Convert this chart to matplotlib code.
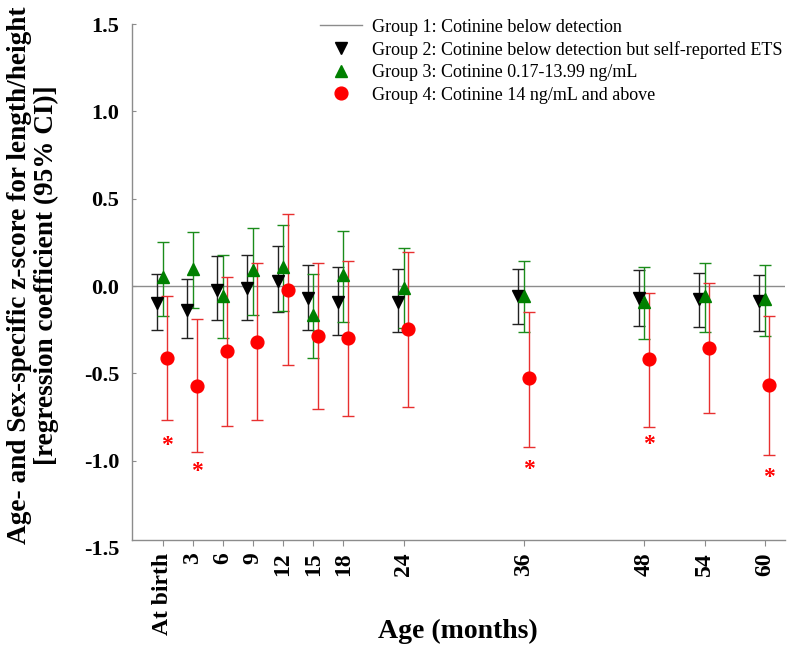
"""
cotinine_growth.py

Plots regression coefficients (95% CI) of the age- and sex-specific
length/height z-score by cotinine group, from birth to 60 months.
"""

import matplotlib
matplotlib.use("Agg")
import matplotlib.pyplot as plt
from matplotlib.lines import Line2D

plt.rcParams['font.family'] = ['Liberation Serif', 'DejaVu Serif']
plt.rcParams['axes.unicode_minus'] = False

# Age in months and the tick labels shown under the axis
months = [0, 3, 6, 9, 12, 15, 18, 24, 36, 48, 54, 60]
month_labels = ['At birth', '3', '6', '9', '12', '15', '18', '24', '36', '48', '54', '60']

# Group 2: cotinine below detection but self-reported ETS
g2_est = [-0.10, -0.14, -0.02, -0.01, 0.03, -0.07, -0.09, -0.09, -0.06, -0.07, -0.075, -0.085]
g2_lo = [-0.25, -0.30, -0.195, -0.195, -0.15, -0.25, -0.28, -0.265, -0.215, -0.23, -0.235, -0.255]
g2_hi = [0.07, 0.04, 0.17, 0.18, 0.23, 0.12, 0.11, 0.10, 0.095, 0.09, 0.075, 0.065]

# Group 3: cotinine 0.17-13.99 ng/mL
g3_est = [0.05, 0.10, -0.055, 0.09, 0.11, -0.165, 0.063, -0.013, -0.056, -0.09, -0.057, -0.077]
g3_lo = [-0.17, -0.125, -0.30, -0.167, -0.142, -0.415, -0.207, -0.24, -0.264, -0.303, -0.264, -0.285]
g3_hi = [0.25, 0.31, 0.176, 0.33, 0.35, 0.069, 0.316, 0.218, 0.146, 0.109, 0.132, 0.123]

# Group 4: cotinine 14 ng/mL and above
g4_est = [-0.41, -0.573, -0.374, -0.32, -0.023, -0.285, -0.299, -0.245, -0.529, -0.42, -0.354, -0.567]
g4_lo = [-0.77, -0.948, -0.803, -0.77, -0.452, -0.706, -0.745, -0.693, -0.92, -0.81, -0.728, -0.966]
g4_hi = [-0.056, -0.19, 0.054, 0.134, 0.414, 0.134, 0.144, 0.197, -0.146, -0.04, 0.019, -0.172]

# Significant group 4 estimates (asterisks)
sig_months = [0, 3, 36, 48, 60]
sig_y = [-0.89, -1.04, -1.03, -0.885, -1.076]

labels = [
    "Group 1: Cotinine below detection",
    "Group 2: Cotinine below detection but self-reported ETS",
    "Group 3: Cotinine 0.17-13.99 ng/mL",
    "Group 4: Cotinine 14 ng/mL and above",
]

GREEN = '#008000'
RED = '#ff0000'
AXIS_GREY = '#8c8c8c'


def draw_group(ax, offset, est, lo, hi, marker, color, ecolor):
    """Draws one group's estimates with asymmetric error bars."""
    x = [m + offset for m in months]
    yerr = [[e - l for e, l in zip(est, lo)], [h - e for e, h in zip(est, hi)]]
    ax.errorbar(x, est, yerr=yerr, fmt=marker, color=color, ecolor=ecolor,
                ms=9.2, elinewidth=1.0, capsize=4, capthick=1.0, zorder=3)


def make_chart(output_file):
    fig = plt.figure(figsize=(8, 6.53), dpi=100)
    ax = fig.add_axes([0.165, 0.1608, 0.81625, 0.8024])

    # spine position first: moving it resets the tick objects
    for side in ['top', 'right']:
        ax.spines[side].set_visible(False)
    ax.spines['bottom'].set_position(('data', -1.455))
    ax.spines['left'].set_bounds(-1.455, 1.5)
    for side in ['left', 'bottom']:
        ax.spines[side].set_color(AXIS_GREY)
        ax.spines[side].set_linewidth(1.0)

    ax.axhline(0, color=AXIS_GREY, lw=1.0, zorder=1)
    draw_group(ax, -0.55, g2_est, g2_lo, g2_hi, 'v', 'black', '#222222')
    draw_group(ax, 0.0, g3_est, g3_lo, g3_hi, '^', GREEN, '#1a8c1a')
    draw_group(ax, 0.45, g4_est, g4_lo, g4_hi, 'o', RED, '#e83030')

    for m, y in zip(sig_months, sig_y):
        ax.text(m + 0.45, y - 0.022, '*', color=RED, fontsize=17, fontweight='bold',
                ha='center', va='center')

    ax.set_xlim(-3.05, 62)
    ax.set_ylim(-1.5, 1.5)
    ax.set_yticks([-1.5, -1.0, -0.5, 0.0, 0.5, 1.0, 1.5])
    ax.set_yticklabels(['%.1f' % v for v in [-1.5, -1.0, -0.5, 0.0, 0.5, 1.0, 1.5]])
    ax.set_xticks(months)
    ax.set_xticklabels(month_labels)

    ax.tick_params(axis='y', direction='in', length=3, color=AXIS_GREY, pad=9,
                   labelsize=16)
    ax.tick_params(axis='x', direction='out', length=4, color=AXIS_GREY, pad=5,
                   labelsize=17, labelrotation=90)
    ax.yaxis.get_major_ticks()[0].tick1line.set_visible(False)
    for lbl in ax.get_xticklabels() + ax.get_yticklabels():
        lbl.set_fontweight('bold')

    fig.text(0.041, 1 - 275 / 653,
             "Age- and Sex-specific z-score for length/height\n"
             "[regression coefficient (95% CI)]",
             rotation=90, ha='center', va='center', fontsize=19.6,
             fontweight='bold', linespacing=1.1, multialignment='center')
    fig.text(458 / 800, 1 - 631 / 653, "Age (months)", ha='center', va='center',
             fontsize=20, fontweight='bold')

    handles = [
        Line2D([], [], color=AXIS_GREY, lw=1.0),
        Line2D([], [], color='black', marker='v', ls='none', ms=9.2),
        Line2D([], [], color=GREEN, marker='^', ls='none', ms=9.2),
        Line2D([], [], color=RED, marker='o', ls='none', ms=9.2),
    ]
    fig.legend(handles, labels, loc='upper left',
               bbox_to_anchor=(320 / 800, 1 - 18.5 / 653), frameon=False,
               fontsize=13, handlelength=2.3, handletextpad=0.6,
               labelspacing=0.3, borderpad=0, borderaxespad=0)

    fig.savefig(output_file, dpi=100)
    print(f"Chart saved to {output_file}")


if __name__ == "__main__":
    make_chart("out.png")
